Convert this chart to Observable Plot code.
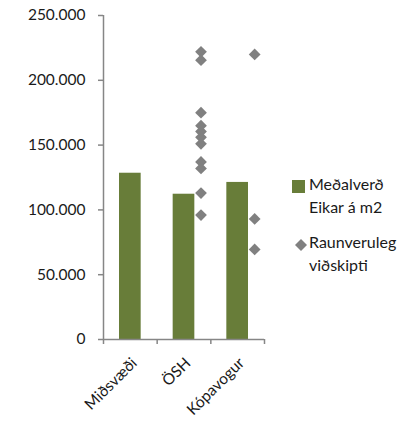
<!DOCTYPE html>
<html>
<head>
<meta charset="utf-8">
<script src="https://cdn.jsdelivr.net/npm/d3@7"></script>
<script src="https://cdn.jsdelivr.net/npm/@observablehq/plot@0.6"></script>
<style>
  html, body { margin: 0; padding: 0; background: #fff; }
  #wrap { position: relative; width: 405px; height: 426px; font-family: Lato, "Open Sans", sans-serif; color: #1a1a1a; }
  .legend { position: absolute; left: 292px; top: 0; font-size: 16px; }
  .entry { position: absolute; left: 0; white-space: nowrap; }
  .key { position: absolute; left: 0; }
  .label { position: absolute; left: 17px; }
</style>
</head>
<body>
<div id="wrap"></div>
<script>
// Districts
const categories = ["Miðsvæði", "ÖSH", "Kópavogur"];
// Average price per m2 for Eik in each district
const averagePrice = [128300, 112100, 121200];
// Individual transactions: district and price per m2
const txCategory = ["ÖSH", "ÖSH", "ÖSH", "ÖSH", "ÖSH", "ÖSH", "ÖSH", "ÖSH", "ÖSH", "ÖSH", "ÖSH",
                    "Kópavogur", "Kópavogur", "Kópavogur"];
const txPrice = [222000, 215500, 175000, 165000, 160500, 156000, 151000, 137000, 132000, 113000, 96000,
                 220000, 93000, 69500];
const yTicks = [0, 50000, 100000, 150000, 200000, 250000];
const legendLabels = [["Meðalverð", "Eikar á m2"], ["Raunveruleg", "viðskipti"]];

const barColor = "#687d39";
const dotColor = "#808080";
const axisColor = "#868686";
const textColor = "#1a1a1a";

const isFormat = d3.formatLocale({decimal: ",", thousands: ".", grouping: [3], currency: ["", " kr."]}).format(",d");

const bars = categories.map((c, i) => ({category: c, index: i, value: averagePrice[i]}));
const trades = txPrice.map((v, i) => ({index: categories.indexOf(txCategory[i]), value: v}));

const chart = Plot.plot({
  width: 405,
  height: 426,
  marginLeft: 103,
  marginRight: 141,
  marginTop: 15,
  marginBottom: 87,
  style: {fontFamily: "Lato, 'Open Sans', sans-serif", fontSize: "15.5px", color: textColor, background: "#fff"},
  x: {type: "linear", domain: [0, categories.length], axis: null},
  y: {domain: [0, 250000], axis: null},
  marks: [
    Plot.rectY(bars, {x1: "index", x2: d => d.index + 1, y: "value", insetLeft: 16, insetRight: 16, fill: barColor}),
    Plot.ruleX([0], {stroke: axisColor, strokeWidth: 1.5}),
    Plot.ruleY([0], {stroke: axisColor, strokeWidth: 1.5}),
    Plot.axisY({ticks: yTicks, tickSize: 5, tickPadding: 13, tickFormat: isFormat, label: null, stroke: axisColor, fill: textColor, strokeWidth: 1.5}),
    Plot.axisX({ticks: d3.range(categories.length + 1), tickSize: 5, tickFormat: () => "", label: null, stroke: axisColor, strokeWidth: 1.5}),
    Plot.text(bars, {x: d => d.index + 0.5, y: 0, text: "category", dy: 21, dx: 4, rotate: -45, textAnchor: "end", lineAnchor: "middle", fill: textColor}),
    Plot.dot(trades, {x: d => d.index + 0.5, y: "value", dx: 17, symbol: "diamond2", r: 5.3, fill: dotColor, stroke: "none"})
  ]
});

const wrap = document.getElementById("wrap");
wrap.appendChild(chart);

// Legend to the right of the plot
const legend = document.createElement("div");
legend.className = "legend";
const entries = [
  {top: 172, key: `<svg width="14" height="14" style="top:8px;position:absolute"><rect width="13" height="13" fill="${barColor}"/></svg>`},
  {top: 230, key: `<svg width="13" height="13" style="top:9px;left:3px;position:absolute"><path d="M6,0L12,6L6,12L0,6Z" fill="${dotColor}"/></svg>`}
];
entries.forEach((e, i) => {
  const div = document.createElement("div");
  div.className = "entry";
  div.style.top = e.top + "px";
  div.style.lineHeight = "23px";
  div.innerHTML = `<span class="key">${e.key}</span><span class="label">${legendLabels[i].join("<br>")}</span>`;
  legend.appendChild(div);
});
wrap.appendChild(legend);
</script>
</body>
</html>
